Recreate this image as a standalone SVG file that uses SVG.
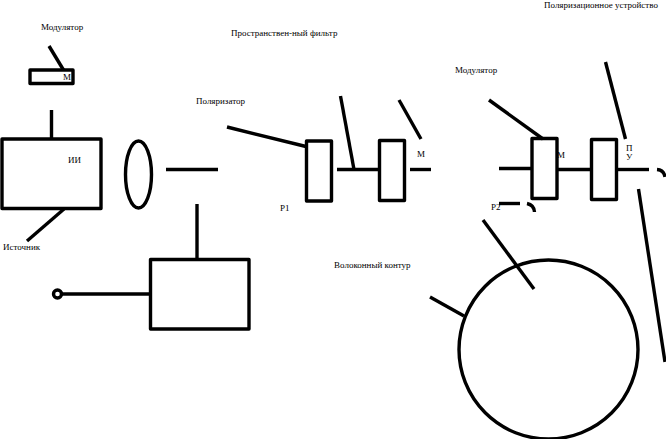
<svg xmlns="http://www.w3.org/2000/svg" width="666" height="439" viewBox="0 0 666 439">
<style>
.s{fill:none;stroke:#000;stroke-width:3.4;stroke-linejoin:round;stroke-linecap:butt}
text{font-family:"Liberation Serif","Times New Roman",serif;font-size:9px;fill:#000}
</style>
<rect width="666" height="439" fill="#fff"/>
<g id="connectors">
<path class="s" d="M49 46L63.500 70"/>
<path class="s" d="M51.500 110V139"/>
<path class="s" d="M64 209L27 241"/>
<path class="s" d="M166 169.500H218"/>
<path class="s" d="M197 204V260"/>
<path class="s" d="M227 127L306 146.500"/>
<path class="s" d="M62 294H151"/>
<path class="s" d="M337 169.500H379"/>
<path class="s" d="M340.500 96L354 169.500"/>
<path class="s" d="M399 100L421 139"/>
<path class="s" d="M410 169.500H431"/>
<path class="s" d="M499 168.500H532"/>
<path class="s" d="M489 100L543 139"/>
<path class="s" d="M557 169.500H591"/>
<path class="s" d="M605.500 62L625.500 139"/>
<path class="s" d="M617 169.500H649"/>
<path class="s" d="M657 169.500Q664 170 665 177"/>
<path class="s" d="M638.500 189L665 362"/>
<path class="s" d="M499 203.500H520"/>
<path class="s" d="M527 203.500Q534 205 534.500 212"/>
<path class="s" d="M483 220L534 289"/>
<path class="s" d="M430 297L464 316"/>
</g>
<g id="modulator-1"><rect class="s" x="30" y="70" width="43" height="13.500"/><text x="63" y="80">М</text></g>
<g id="source"><rect class="s" x="2" y="139" width="99" height="69.500"/><text x="68" y="163">ИИ</text></g>
<g id="lens"><ellipse class="s" cx="138.500" cy="174.500" rx="13" ry="33.500"/></g>
<g id="box"><rect class="s" x="150.500" y="259.500" width="98.500" height="69.500"/></g>
<g id="fiber-end"><circle class="s" cx="57.500" cy="294" r="4"/></g>
<g id="p1"><rect class="s" x="306.500" y="141" width="25" height="60"/></g>
<g id="filter"><rect class="s" x="379.500" y="140.500" width="25" height="60"/></g>
<g id="modulator-2"><rect class="s" x="532" y="138.500" width="25" height="60"/></g>
<g id="pu"><rect class="s" x="591.500" y="139.500" width="25" height="60"/></g>
<g id="loop"><circle class="s" cx="548.500" cy="349.500" r="89.500"/></g>
<g id="labels">
<text x="41" y="30">Модулятор</text>
<text x="231" y="36">Пространствен-ный фильтр</text>
<text x="544" y="8">Поляризационное устройство</text>
<text x="196" y="104">Поляризатор</text>
<text x="455" y="73">Модулятор</text>
<text x="3" y="250">Источник</text>
<text x="417" y="157">М</text>
<text x="557" y="158">М</text>
<text x="626" y="151">П</text>
<text x="626" y="160">У</text>
<text x="280" y="211">Р1</text>
<text x="491" y="210">Р2</text>
<text x="334" y="268">Волоконный контур</text>
</g>
</svg>
